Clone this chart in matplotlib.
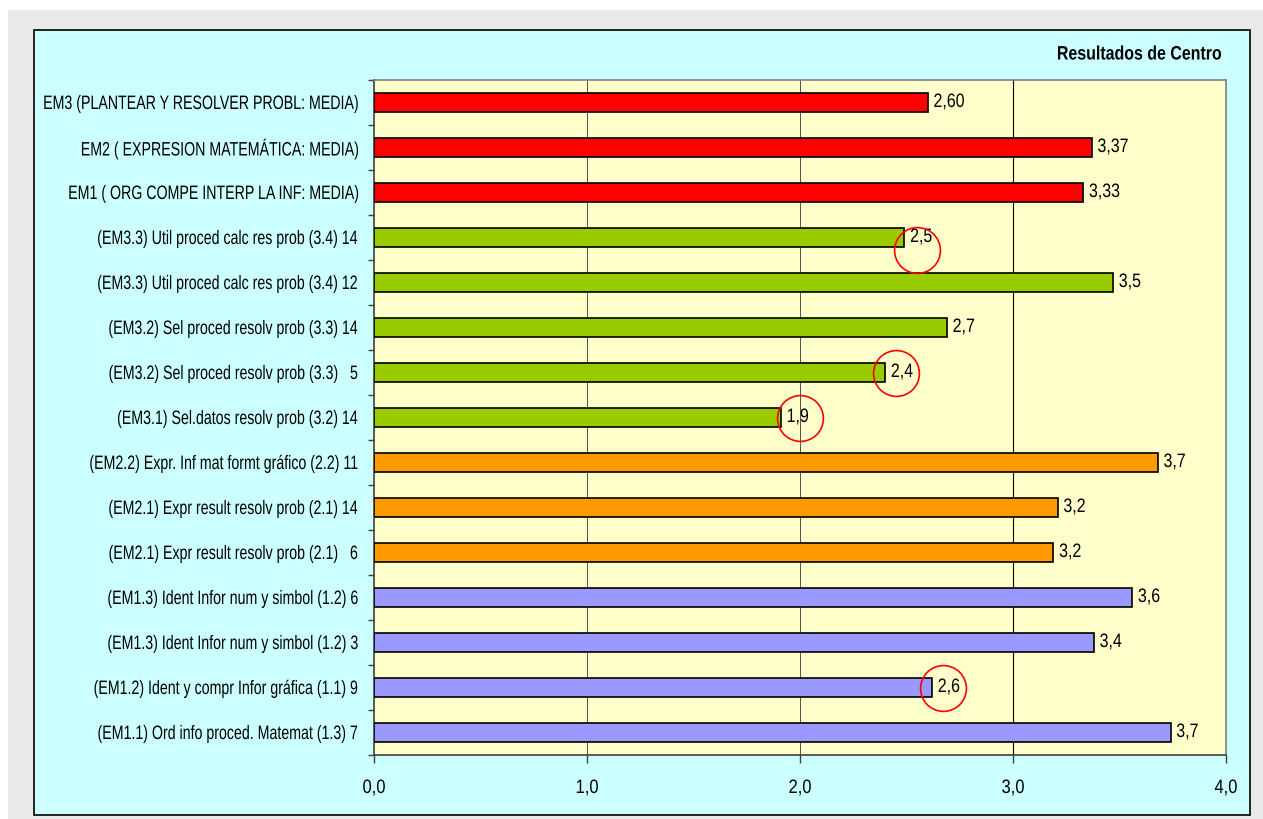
import numpy as np
import matplotlib
matplotlib.use("Agg")
from matplotlib import pyplot as plt
from matplotlib.patches import Rectangle
from matplotlib.path import Path
from matplotlib.transforms import Affine2D
from matplotlib.patheffects import AbstractPathEffect

# data, top to bottom as in the chart
labels = [
    "EM3 (PLANTEAR Y RESOLVER PROBL: MEDIA)",
    "EM2 ( EXPRESION MATEMÁTICA: MEDIA)",
    "EM1 ( ORG COMPE INTERP LA INF: MEDIA)",
    "(EM3.3) Util proced calc res prob (3.4) 14",
    "(EM3.3) Util proced calc res prob (3.4) 12",
    "(EM3.2) Sel proced resolv prob (3.3) 14",
    "(EM3.2) Sel proced resolv prob (3.3)   5",
    "(EM3.1) Sel.datos resolv prob (3.2) 14",
    "(EM2.2) Expr. Inf mat formt gráfico (2.2) 11",
    "(EM2.1) Expr result resolv prob (2.1) 14",
    "(EM2.1) Expr result resolv prob (2.1)   6",
    "(EM1.3) Ident Infor num y simbol (1.2) 6",
    "(EM1.3) Ident Infor num y simbol (1.2) 3",
    "(EM1.2) Ident y compr Infor gráfica (1.1) 9",
    "(EM1.1) Ord info proced. Matemat (1.3) 7",
]
values = [2.60, 3.37, 3.33, 2.49, 3.47, 2.69, 2.40, 1.91, 3.68, 3.21, 3.19, 3.56, 3.38, 2.62, 3.74]
decimals = [2, 2, 2, 1, 1, 1, 1, 1, 1, 1, 1, 1, 1, 1, 1]
groups = ["media"] * 3 + ["em3"] * 5 + ["em2"] * 3 + ["em1"] * 4
group_colors = {"media": "#FF0000", "em3": "#99CC00", "em2": "#FF9900", "em1": "#9999FF"}
# highlighted labels (red circles): category index, circle centre value, vertical shift
circled = [(3, 2.55, 0.27), (6, 2.45, 0.0), (7, 2.0, 0.0), (13, 2.67, 0.0)]
title = "Resultados de Centro"
xticks = [0.0, 1.0, 2.0, 3.0, 4.0]


class Squeeze(AbstractPathEffect):
    # narrow the glyphs horizontally, keeping one edge of the text in place
    def __init__(self, sx, anchor="right"):
        super().__init__()
        self.sx = sx
        self.anchor = anchor

    def draw_path(self, renderer, gc, tpath, affine, rgbFace=None):
        v = tpath.vertices
        if tpath.codes is not None:
            v = v[tpath.codes != Path.CLOSEPOLY]
        if len(v) == 0:
            return
        xs = affine.transform(v)[:, 0]
        if self.anchor == "right":
            x0 = xs.max()
        elif self.anchor == "left":
            x0 = xs.min()
        else:
            x0 = 0.5 * (xs.min() + xs.max())
        tr = affine + Affine2D().translate(-x0, 0).scale(self.sx, 1).translate(x0, 0)
        renderer.draw_path(gc, tpath, tr, rgbFace)


plt.rcParams["font.family"] = ["Liberation Sans", "DejaVu Sans"]

W, H = 1263, 819
fig = plt.figure(figsize=(W / 100, H / 100), dpi=100, facecolor="white")

# frame backgrounds
fig.patches.append(Rectangle((8 / W, 0), 1 - 8 / W, 1 - 10 / H, transform=fig.transFigure,
                             facecolor="#EAEAEA", edgecolor="none", zorder=-3))
fig.patches.append(Rectangle((34 / W, 4 / H), (1250 - 34) / W, (815 - 30) / H, transform=fig.transFigure,
                             facecolor="#CCFFFF", edgecolor="black", linewidth=1.2, zorder=-2))

ax = fig.add_axes([374 / W, 1 - 755 / H, (1226 - 374) / W, (755 - 80) / H])
ax.set_facecolor("#FFFFCC")

y = np.arange(len(labels))
colors = [group_colors[g] for g in groups]
ax.barh(y, values, height=0.44, color=colors, edgecolor="black", linewidth=1.2, zorder=3)

for i, (v, d) in enumerate(zip(values, decimals)):
    txt = f"{v:.{d}f}".replace(".", ",")
    ax.text(v + 0.026, i, txt, ha="left", va="center", fontsize=14, zorder=5,
            path_effects=[Squeeze(0.82, "left")])

for i, xc, dy in circled:
    ax.plot(xc, i + dy, marker="o", markersize=33, markerfacecolor="none",
            markeredgecolor="#FF0000", markeredgewidth=1.2, zorder=6, clip_on=False)

ax.set_xlim(0, 4)
ax.set_ylim(len(labels) - 0.5, -0.5)

for gx in [1.0, 2.0]:
    ax.axvline(gx, color="#505050", linewidth=0.7, zorder=1)
ax.axvline(3.0, color="black", linewidth=0.8, zorder=1)

ax.set_xticks(xticks)
ax.set_xticklabels([f"{t:.1f}".replace(".", ",") for t in xticks], fontsize=14)
ax.tick_params(axis="x", direction="out", length=6, width=1, color="#404040", pad=12)
for t in ax.get_xticklabels():
    t.set_path_effects([Squeeze(0.85, "center")])

ax.set_yticks(y)
ax.set_yticklabels(labels, fontsize=14)
ax.tick_params(axis="y", which="major", length=0, pad=10)
for t in ax.get_yticklabels():
    t.set_path_effects([Squeeze(0.73, "right")])
ax.set_yticks(np.arange(-0.5, len(labels), 1.0), minor=True)
ax.tick_params(axis="y", which="minor", direction="out", length=4, width=1, color="#404040")

for s in ax.spines.values():
    s.set_color("#808080")
    s.set_linewidth(1.2)
ax.spines["left"].set_color("#404040")
ax.spines["bottom"].set_color("#404040")

fig.text(1222 / W, 1 - 55 / H, title, ha="right", va="center", fontsize=14, fontweight="bold",
         path_effects=[Squeeze(0.82, "right")])

fig.savefig("out.png", dpi=100, facecolor=fig.get_facecolor())
